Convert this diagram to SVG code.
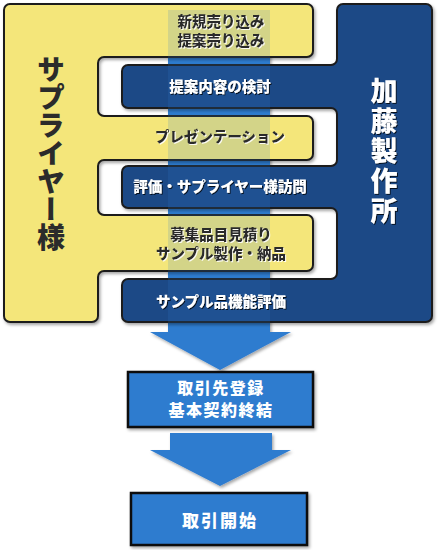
<svg xmlns="http://www.w3.org/2000/svg" width="440" height="550" viewBox="0 0 440 550">
<defs>
<filter id="sh" x="-10%" y="-10%" width="120%" height="120%"><feDropShadow dx="1.5" dy="2" stdDeviation="1.5" flood-color="#000" flood-opacity="0.35"/></filter>
<filter id="tsd" x="-10%" y="-20%" width="120%" height="140%"><feDropShadow dx="1" dy="1" stdDeviation="0.6" flood-color="#000" flood-opacity="0.8"/></filter>
<filter id="tsl" x="-10%" y="-20%" width="120%" height="140%"><feDropShadow dx="1" dy="1" stdDeviation="0.6" flood-color="#fff" flood-opacity="0.9"/></filter>
</defs>
<style>
text{font-family:"Noto Sans CJK JP","Noto Sans CJK SC",sans-serif;font-weight:900;text-anchor:middle;}
.dk{fill:#2b2b2b;font-size:14.5px;filter:url(#tsl);}
.wt{fill:#fff;font-size:14.5px;filter:url(#tsd);}
.yel{fill:#f4e67a;stroke:#1c1c1c;stroke-width:2;}
.nav{fill:#1f4a86;stroke:#1c1c1c;stroke-width:2;}
.arr{fill:#2e7bcf;}
.ovl{fill:#2e7bcf;opacity:0.17;}
.box{fill:#2e7bcf;stroke:#111;stroke-width:2.5;}
.bt{fill:#fff;font-size:16px;letter-spacing:1.5px;}
</style>
<g id="connectors">
<path class="arr" filter="url(#sh)" d="M168,10 H270 V332 H291 L220,370 L150,332 H168 Z"/>
<path class="arr" filter="url(#sh)" d="M170,433 H272 V450 H291 L220,486 L150,450 H170 Z"/>
</g>
<g id="supplier">
<path class="yel" filter="url(#sh)" d="M10,4 H307 A6 6 0 0 1 313,10 V51 A6 6 0 0 1 307,57 H104 A6 6 0 0 0 98,63 V110 A6 6 0 0 0 104,116 H307 A6 6 0 0 1 313,122 V154 A6 6 0 0 1 307,160 H104 A6 6 0 0 0 98,166 V209 A6 6 0 0 0 104,215 H307 A6 6 0 0 1 313,221 V265 A6 6 0 0 1 307,271 H104 A6 6 0 0 0 98,277 V316 A6 6 0 0 1 92,322 H10 A6 6 0 0 1 4,316 V10 A6 6 0 0 1 10,4 Z"/>
<text x="51" y="153" style="writing-mode:vertical-rl;font-size:28px;fill:#2b2b2b;">サプライヤー様</text>
</g>
<g id="kato">
<path class="nav" filter="url(#sh)" d="M343,4 H426 A6 6 0 0 1 432,10 V316 A6 6 0 0 1 426,322 H128 A6 6 0 0 1 122,316 V285 A6 6 0 0 1 128,279 H331 A6 6 0 0 0 337,273 V214 A6 6 0 0 0 331,208 H128 A6 6 0 0 1 122,202 V172 A6 6 0 0 1 128,166 H331 A6 6 0 0 0 337,160 V114 A6 6 0 0 0 331,108 H128 A6 6 0 0 1 122,102 V71 A6 6 0 0 1 128,65 H331 A6 6 0 0 0 337,59 V10 A6 6 0 0 1 343,4 Z"/>
<text x="384" y="152" filter="url(#tsd)" style="writing-mode:vertical-rl;font-size:27px;fill:#fff;letter-spacing:3px;">加藤製作所</text>
</g>
<g id="connector-overlay">
<rect class="ovl" x="168" y="10" width="102" height="313"/>
</g>
<g id="step1"><text class="dk" x="221" y="27">新規売り込み</text><text class="dk" x="221" y="46">提案売り込み</text></g>
<g id="step2"><text class="wt" x="220" y="92">提案内容の検討</text></g>
<g id="step3"><text class="dk" x="220" y="142">プレゼンテーション</text></g>
<g id="step4"><text class="wt" x="220" y="192">評価・サプライヤー様訪問</text></g>
<g id="step5"><text class="dk" x="221" y="240">募集品目見積り</text><text class="dk" x="221" y="259">サンプル製作・納品</text></g>
<g id="step6"><text class="wt" x="221" y="307">サンプル品機能評価</text></g>
<g id="contract">
<rect class="box" filter="url(#sh)" x="128" y="372" width="185" height="55"/>
<text class="bt" x="221" y="394">取引先登録</text>
<text class="bt" x="221" y="416">基本契約終結</text>
</g>
<g id="start">
<rect class="box" filter="url(#sh)" x="131" y="493" width="176" height="52"/>
<text class="bt" x="220" y="527" style="font-size:17px;letter-spacing:2px;">取引開始</text>
</g>
</svg>
